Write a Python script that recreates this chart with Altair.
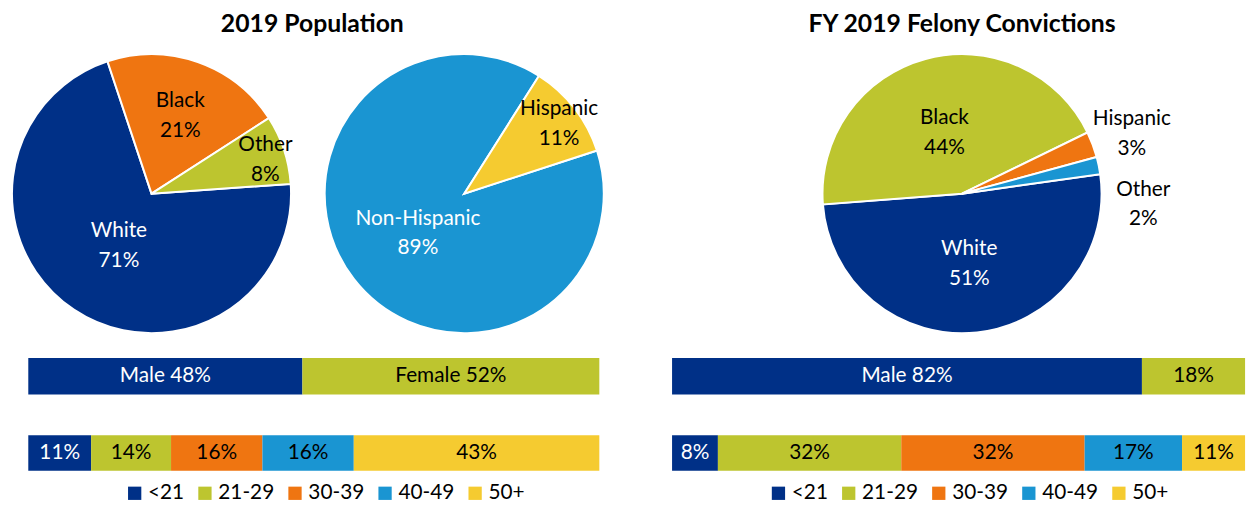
import math
import altair as alt
import pandas as pd

# ---------------- data ----------------
pop_race_cats = ["White", "Black", "Other"]
pop_race_vals = [71, 21, 8]
pop_eth_cats = ["Non-Hispanic", "Hispanic"]
pop_eth_vals = [89, 11]
conv_race_cats = ["White", "Black", "Hispanic", "Other"]
conv_race_vals = [51, 44, 3, 2]

gender_cats = ["Male", "Female"]
pop_gender_vals = [48, 52]
pop_gender_labels = ["Male 48%", "Female 52%"]
conv_gender_vals = [82, 18]
conv_gender_labels = ["Male 82%", "18%"]

age_cats = ["<21", "21-29", "30-39", "40-49", "50+"]
pop_age_vals = [11, 14, 16, 16, 43]
conv_age_vals = [8, 32, 32, 17, 11]

# ---------------- style ----------------
NAVY = "#003087"
GREEN = "#BDC52F"
ORANGE = "#EF7511"
BLUE = "#1A95D2"
YELLOW = "#F5CB30"
FONT = "Lato"
LABEL_SIZE = 21
LINE_H = 30
R = 141


def pie(cats, vals, colors, start_deg, w, h):
    df = pd.DataFrame({"cat": cats, "val": vals, "idx": list(range(len(cats)))})
    start = math.radians(start_deg)
    base = (
        alt.Chart(df)
        .transform_joinaggregate(total="sum(val)")
        .transform_window(cum="sum(val)", sort=[alt.SortField("idx")], frame=[None, 0])
        .transform_calculate(
            t0=f"{start} + 2*PI*(datum.cum - datum.val)/datum.total",
            t1=f"{start} + 2*PI*datum.cum/datum.total",
        )
    )
    arcs = base.mark_arc(radius=R, stroke="white", strokeWidth=2).encode(
        theta=alt.Theta("t0:Q", scale=None, stack=None),
        theta2="t1:Q",
        color=alt.Color("cat:N", scale=alt.Scale(domain=cats, range=colors), legend=None),
    )
    lab = (
        base.transform_calculate(outside="datum.val < 5 ? 1 : 0")
        .transform_window(orank="row_number()", groupby=["outside"], sort=[alt.SortField("idx")])
        .transform_calculate(
            lt="(datum.t0 + datum.t1)/2 + (datum.outside == 1 ? (datum.orank - 1)*0.24 : 0)",
            lr=(
                f"datum.outside == 1 ? {1.30 * R} : datum.val >= 60 ? {0.42 * R} : "
                f"datum.val >= 40 ? {0.48 * R} : datum.val >= 15 ? {0.62 * R} : {0.86 * R}"
            ),
            label="[datum.cat, datum.val + '%']",
        )
    )
    enc = dict(
        theta=alt.Theta("lt:Q", scale=None, stack=None),
        radius=alt.Radius("lr:Q", scale=None),
        text="label:N",
    )
    txt = dict(fontSize=LABEL_SIZE, lineHeight=LINE_H, font=FONT, baseline="middle",
               align="center", dy=-11)
    white_lab = lab.transform_filter("datum.val > 50").mark_text(color="white", **txt).encode(**enc)
    black_lab = lab.transform_filter("datum.val <= 50").mark_text(color="black", **txt).encode(**enc)
    return alt.layer(arcs, white_lab, black_lab).properties(width=w, height=h)


def hbar(cats, vals, labels, colors, width, height, legend=False):
    df = pd.DataFrame(
        {"cat": cats, "val": vals, "idx": list(range(len(cats))), "label": labels, "row": "r"}
    )
    base = (
        alt.Chart(df)
        .transform_window(cum="sum(val)", sort=[alt.SortField("idx")], frame=[None, 0])
        .transform_calculate(x0="datum.cum - datum.val", mid="datum.cum - datum.val/2")
    )
    xs = alt.Scale(domain=[0, 100], nice=False, zero=True)
    ys = alt.Scale(paddingInner=0, paddingOuter=0)
    if legend:
        leg = alt.Legend(
            orient="none",
            legendX=97,
            legendY=48,
            direction="horizontal",
            title=None,
            symbolType="square",
            symbolSize=180,
            symbolStrokeWidth=0,
            labelFontSize=21,
            labelFont=FONT,
            labelColor="black",
            columnPadding=10,
            labelOffset=3,
        )
    else:
        leg = None
    bars = base.mark_bar(strokeWidth=0).encode(
        x=alt.X("x0:Q", scale=xs, axis=None),
        x2="cum:Q",
        y=alt.Y("row:N", axis=None, scale=ys),
        color=alt.Color("cat:N", scale=alt.Scale(domain=cats, range=colors), legend=leg,
                        sort=cats),
    )
    enc = dict(
        x=alt.X("mid:Q", scale=xs, axis=None),
        y=alt.Y("row:N", axis=None, scale=ys),
        text="label:N",
    )
    txt = dict(fontSize=LABEL_SIZE, font=FONT, baseline="middle", align="center")
    t_white = base.transform_filter("datum.idx == 0").mark_text(color="white", **txt).encode(**enc)
    t_black = base.transform_filter("datum.idx > 0").mark_text(color="black", **txt).encode(**enc)
    return alt.layer(bars, t_white, t_black).properties(width=width, height=height)


age_colors = [NAVY, GREEN, ORANGE, BLUE, YELLOW]
gender_colors = [NAVY, GREEN]

pie1 = pie(pop_race_cats, pop_race_vals, [NAVY, ORANGE, GREEN], 86, 284, 282)
pie2 = pie(pop_eth_cats, pop_eth_vals, [BLUE, YELLOW], 72, 308, 282)
pie3 = pie(conv_race_cats, conv_race_vals, [NAVY, GREEN, ORANGE, BLUE], 82, 586, 282).properties(
    title=alt.Title("FY 2019 Felony Convictions", anchor="middle")
)

g_left = hbar(gender_cats, pop_gender_vals, pop_gender_labels, gender_colors, 577, 37)
a_left = hbar(age_cats, pop_age_vals, [f"{v}%" for v in pop_age_vals], age_colors, 577, 36, legend=True)
g_right = hbar(gender_cats, conv_gender_vals, conv_gender_labels, gender_colors, 579, 37)
a_right = hbar(age_cats, conv_age_vals, [f"{v}%" for v in conv_age_vals], age_colors, 579, 36, legend=True)

IND = dict(color="independent")

left_pies = alt.hconcat(pie1, pie2, spacing=17,
                        title=alt.Title("2019 Population", anchor="middle")).resolve_scale(**IND)
left_bars = alt.vconcat(g_left, a_left, spacing=41).resolve_scale(**IND)
left = alt.vconcat(left_pies, left_bars, spacing=21, center=True).resolve_scale(**IND)
right_bars = alt.vconcat(g_right, a_right, spacing=41).resolve_scale(**IND)
right = alt.vconcat(pie3, right_bars, spacing=21).resolve_scale(**IND)

chart = (
    alt.hconcat(left, right, spacing=56)
    .resolve_scale(**IND)
    .properties(padding={"top": 2, "left": 0, "right": 0, "bottom": 0})
    .configure_view(strokeWidth=0)
    .configure_title(font=FONT, fontSize=25, fontWeight="bold", color="black", offset=13)
    .configure_legend(labelFontSize=21, labelFont=FONT, symbolSize=180, labelColor="black")
)

chart.save("out.html", embed_options={"renderer": "svg", "actions": False})
